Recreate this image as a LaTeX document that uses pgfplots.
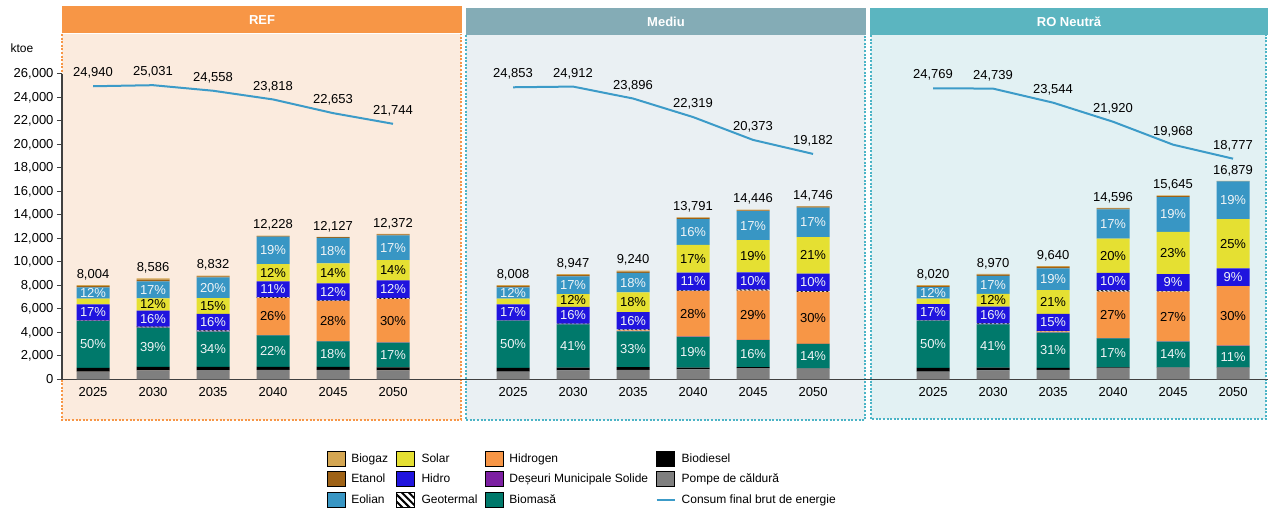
\documentclass[border=0pt]{standalone}
\usepackage{fontspec}
\setmainfont{Liberation Sans}
\usepackage{pgfplots}
\pgfplotsset{compat=1.18}
\usetikzlibrary{patterns.meta}
\definecolor{cPompe}{RGB}{127,127,127}
\definecolor{cBiomasa}{RGB}{0,121,107}
\definecolor{cDeseuri}{RGB}{124,31,162}
\definecolor{cHidrogen}{RGB}{247,150,70}
\definecolor{cHidro}{RGB}{32,20,222}
\definecolor{cSolar}{RGB}{229,224,50}
\definecolor{cEolian}{RGB}{56,150,196}
\definecolor{cEtanol}{RGB}{158,98,22}
\definecolor{cBiogaz}{RGB}{212,166,82}
\definecolor{cLine}{RGB}{60,155,200}
\definecolor{hREF}{RGB}{247,150,70}
\definecolor{hMed}{RGB}{132,172,182}
\definecolor{hRO}{RGB}{91,181,192}
\definecolor{bgREF}{RGB}{251,235,222}
\definecolor{bgMed}{RGB}{234,240,243}
\definecolor{bgRO}{RGB}{226,241,243}
\definecolor{bTeal}{RGB}{75,180,198}
\definecolor{axgray}{RGB}{64,64,64}
\definecolor{lblwhite}{RGB}{240,244,246}
\pgfplotsset{
  base/.style={
    scale only axis, width=1206pt, height=305.5pt,
    at={(62pt,128.7pt)}, anchor=south west,
    xmin=-0.517, xmax=19.583, ymin=0, ymax=26000,
  },
  box/.style={legend image code/.code={\fill[##1] (0pt,-7.5pt) rectangle (18pt,7.5pt);}},
  lineleg/.style={legend image code/.code={\draw[##1] (0pt,0pt) -- (18pt,0pt);}},
  lbl/.style={draw=none, forget plot, nodes near coords, point meta=explicit symbolic,
    every node near coord/.append style={font=\fontsize{13pt}{15pt}\selectfont, text=#1, anchor=center}},
}
\begin{document}
\begin{tikzpicture}
\useasboundingbox (0,0) rectangle (1268pt,508pt);
% panels
\fill[bgREF] (62pt,88pt) rectangle (461pt,474pt);
\fill[bgMed] (466pt,88pt) rectangle (865pt,473pt);
\fill[bgRO] (871pt,89pt) rectangle (1266pt,473pt);
\draw[hREF, line width=2pt, dash pattern=on 2pt off 1.6pt] (62pt,474pt) -- (62pt,88pt) -- (461pt,88pt) -- (461pt,474pt);
\draw[bTeal, line width=2pt, dash pattern=on 2pt off 1.6pt] (466pt,473pt) -- (466pt,88pt) -- (865pt,88pt) -- (865pt,473pt);
\draw[bTeal, line width=2pt, dash pattern=on 2pt off 1.6pt] (871pt,473pt) -- (871pt,89pt) -- (1266pt,89pt) -- (1266pt,473pt);
\fill[hREF] (62pt,475pt) rectangle (462pt,502pt);
\fill[hMed] (466pt,473pt) rectangle (866pt,500pt);
\fill[hRO] (870pt,473pt) rectangle (1268pt,500pt);
\node[white, font=\fontsize{13pt}{15pt}\selectfont\bfseries] at (262pt,488pt) {REF};
\node[white, font=\fontsize{13pt}{15pt}\selectfont\bfseries] at (666pt,486.5pt) {Mediu};
\node[white, font=\fontsize{13pt}{15pt}\selectfont\bfseries] at (1069pt,486.5pt) {RO Neutră};
\node[font=\fontsize{12pt}{14pt}\selectfont] at (22pt,460pt) {ktoe};

\begin{axis}[base, ybar stacked, bar width=33pt,
  axis x line*=bottom, axis y line*=left,
  axis line style={axgray, line width=1.2pt},
  ytick={0,2000,...,26000},
  tick align=outside, major tick length=5pt,
  ytick style={axgray, line width=1pt},
  y tick label style={font=\fontsize{13pt}{15pt}\selectfont, /pgf/number format/.cd, fixed, 1000 sep={,}, assume math mode=true},
  scaled y ticks=false,
  xtick={0,1,2,3,4,5,7,8,9,10,11,12,14,15,16,17,18,19},
  xticklabels={2025,2030,2035,2040,2045,2050,2025,2030,2035,2040,2045,2050,2025,2030,2035,2040,2045,2050},
  xtick style={draw=none},
  x tick label style={font=\fontsize{13pt}{15pt}\selectfont},
]
% Pompe de caldura
\addplot[fill=cPompe, draw=none] coordinates {(0,650)(1,750)(2,780)(3,800)(4,800)(5,750)(7,650)(8,750)(9,800)(10,850)(11,950)(12,900)(14,650)(15,750)(16,800)(17,950)(18,1000)(19,1000)};
% Biodiesel
\addplot[fill=black, draw=none] coordinates {(0,330)(1,300)(2,280)(3,250)(4,250)(5,270)(7,330)(8,250)(9,230)(10,150)(11,80)(12,40)(14,330)(15,250)(16,180)(17,60)(18,20)(19,10)};
% Biomasa
\addplot[fill=cBiomasa, draw=none] coordinates {(0,4002)(1,3349)(2,3003)(3,2690)(4,2183)(5,2103)(7,4004)(8,3668)(9,3049)(10,2620)(11,2311)(12,2064)(14,4010)(15,3678)(16,2988)(17,2481)(18,2190)(19,1840)};
% Deseuri
\addplot[fill=cDeseuri, draw=none] coordinates {(0,20)(1,20)(2,20)(3,20)(4,20)(5,20)(7,20)(8,20)(9,20)(10,20)(11,20)(12,20)(14,20)(15,20)(16,20)(17,20)(18,20)(19,10)};
% Hidrogen
\addplot[fill=cHidrogen, draw=none] coordinates {(0,0)(1,0)(2,0)(3,3179)(4,3396)(5,3712)(7,0)(8,0)(9,60)(10,3861)(11,4189)(12,4424)(14,0)(15,0)(16,80)(17,3941)(18,4224)(19,5060)};
% Geotermal
\addplot[pattern={Lines[angle=-45, distance=3pt, line width=1.2pt]}, pattern color=black, draw=none] coordinates {(0,20)(1,60)(2,80)(3,60)(4,60)(5,80)(7,20)(8,50)(9,90)(10,70)(11,110)(12,80)(14,20)(15,60)(16,60)(17,140)(18,80)(19,20)};
% Hidro
\addplot[fill=cHidro, draw=none] coordinates {(0,1361)(1,1374)(2,1413)(3,1345)(4,1455)(5,1485)(7,1361)(8,1432)(9,1478)(10,1517)(11,1445)(12,1475)(14,1363)(15,1435)(16,1446)(17,1460)(18,1408)(19,1500)};
% Solar
\addplot[fill=cSolar, draw=none] coordinates {(0,480)(1,1030)(2,1325)(3,1467)(4,1698)(5,1732)(7,480)(8,1074)(9,1663)(10,2344)(11,2745)(12,3097)(14,480)(15,1076)(16,2024)(17,2919)(18,3598)(19,4200)};
% Eolian
\addplot[fill=cEolian, draw=none] coordinates {(0,960)(1,1460)(2,1766)(3,2323)(4,2183)(5,2103)(7,961)(8,1521)(9,1663)(10,2207)(11,2456)(12,2507)(14,962)(15,1525)(16,1832)(17,2481)(18,2973)(19,3200)};
% Etanol
\addplot[fill=cEtanol, draw=none] coordinates {(0,100)(1,150)(2,100)(3,60)(4,50)(5,70)(7,100)(8,110)(9,110)(10,90)(11,80)(12,80)(14,100)(15,110)(16,130)(17,90)(18,80)(19,20)};
% Biogaz
\addplot[fill=cBiogaz, draw=none] coordinates {(0,81)(1,93)(2,65)(3,34)(4,32)(5,47)(7,82)(8,72)(9,77)(10,62)(11,60)(12,59)(14,85)(15,66)(16,80)(17,54)(18,52)(19,19)};
\end{axis}

\begin{axis}[base, hide axis, clip=false,
  legend columns=4,
  legend cell align=left,
  legend style={at={(0.2195,-0.235)}, anchor=north west, draw=none, fill=none,
    font=\fontsize{12pt}{14pt}\selectfont, row sep=4.8pt, inner sep=0pt,
    /tikz/every odd column/.append style={column sep=4pt},
    /tikz/every even column/.append style={column sep=5.5pt}},
]
\addlegendimage{box, fill=cBiogaz} \addlegendentry{Biogaz}
\addlegendimage{box, fill=cSolar} \addlegendentry{Solar}
\addlegendimage{box, fill=cHidrogen} \addlegendentry{Hidrogen}
\addlegendimage{box, fill=black} \addlegendentry{Biodiesel}
\addlegendimage{box, fill=cEtanol} \addlegendentry{Etanol}
\addlegendimage{box, fill=cHidro} \addlegendentry{Hidro}
\addlegendimage{box, fill=cDeseuri} \addlegendentry{Deșeuri Municipale Solide}
\addlegendimage{box, fill=cPompe} \addlegendentry{Pompe de căldură}
\addlegendimage{box, fill=cEolian} \addlegendentry{Eolian}
\addlegendimage{box, pattern={Lines[angle=-45, distance=5pt, line width=2pt]}, pattern color=black} \addlegendentry{Geotermal}
\addlegendimage{box, fill=cBiomasa} \addlegendentry{Biomasă}
\addplot[cLine, line width=2pt, lineleg] coordinates {(0,24940)(1,25031)(2,24558)(3,23818)(4,22653)(5,21744)};
\addlegendentry{Consum final brut de energie}
\addplot[cLine, line width=2pt, forget plot] coordinates {(7,24853)(8,24912)(9,23896)(10,22319)(11,20373)(12,19182)};
\addplot[cLine, line width=2pt, forget plot] coordinates {(14,24769)(15,24739)(16,23544)(17,21920)(18,19968)(19,18777)};
% line value labels
\addplot[draw=none, forget plot, nodes near coords, point meta=explicit symbolic,
  every node near coord/.append style={font=\fontsize{13pt}{15pt}\selectfont, anchor=center, yshift=13pt}]
  coordinates {(0,24940)[24,940](1,25031)[25,031](2,24558)[24,558](3,23818)[23,818](4,22653)[22,653](5,21744)[21,744]
  (7,24853)[24,853](8,24912)[24,912](9,23896)[23,896](10,22319)[22,319](11,20373)[20,373](12,19182)[19,182]
  (14,24769)[24,769](15,24739)[24,739](16,23544)[23,544](17,21920)[21,920](18,19968)[19,968](19,18777)[18,777]};
% bar totals
\addplot[draw=none, forget plot, nodes near coords, point meta=explicit symbolic,
  every node near coord/.append style={font=\fontsize{13pt}{15pt}\selectfont, anchor=center, yshift=10.5pt}]
  coordinates {(0,8004)[8,004](1,8586)[8,586](2,8832)[8,832](3,12228)[12,228](4,12127)[12,127](5,12372)[12,372]
  (7,8008)[8,008](8,8947)[8,947](9,9240)[9,240](10,13791)[13,791](11,14446)[14,446](12,14746)[14,746]
  (14,8020)[8,020](15,8970)[8,970](16,9640)[9,640](17,14596)[14,596](18,15645)[15,645](19,16879)[16,879]};
% segment share labels on dark segments (Biomasa, Hidro, Eolian), at segment centres
\addplot[lbl=lblwhite] coordinates {
  (0,2981)[50\%](1,2724)[39\%](2,2561)[34\%](3,2395)[22\%](4,2141)[18\%](5,2071)[17\%]
  (7,2982)[50\%](8,2834)[41\%](9,2554)[33\%](10,2310)[19\%](11,2185)[16\%](12,1972)[14\%]
  (14,2985)[50\%](15,2839)[41\%](16,2474)[31\%](17,2250)[17\%](18,2115)[14\%](19,1930)[11\%]
  (0,5702)[17\%](1,5166)[16\%](2,4869)[16\%](3,7671)[11\%](4,7436)[12\%](5,7677)[12\%]
  (7,5704)[17\%](8,5454)[16\%](9,4988)[16\%](10,8329)[11\%](11,8382)[10\%](12,8265)[10\%]
  (14,5711)[17\%](15,5475)[16\%](16,4851)[15\%](17,8322)[10\%](18,8238)[9\%](19,8690)[9\%]
  (0,7343)[12\%](1,7613)[17\%](2,7784)[20\%](3,10972)[19\%](4,10953)[18\%](5,11203)[17\%]
  (7,7345)[12\%](8,8004)[17\%](9,8221)[18\%](10,12535)[16\%](11,13078)[17\%](12,13353)[17\%]
  (14,7354)[12\%](15,8031)[17\%](16,8514)[19\%](17,13211)[17\%](18,14026)[19\%](19,15240)[19\%]};
% segment share labels on light segments (Hidrogen, Solar)
\addplot[lbl=black] coordinates {
  (3,5349)[26\%](4,4951)[28\%](5,4999)[30\%]
  (10,5570)[28\%](11,5455)[29\%](12,5236)[30\%]
  (17,5481)[27\%](18,5342)[27\%](19,5390)[30\%]
  (1,6368)[12\%](2,6238)[15\%](3,9077)[12\%](4,9013)[14\%](5,9286)[14\%]
  (8,6707)[12\%](9,6558)[18\%](10,10260)[17\%](11,10477)[19\%](12,10551)[21\%]
  (15,6731)[12\%](16,6586)[21\%](17,10511)[20\%](18,10741)[23\%](19,11540)[25\%]};
\end{axis}
\end{tikzpicture}
\end{document}
